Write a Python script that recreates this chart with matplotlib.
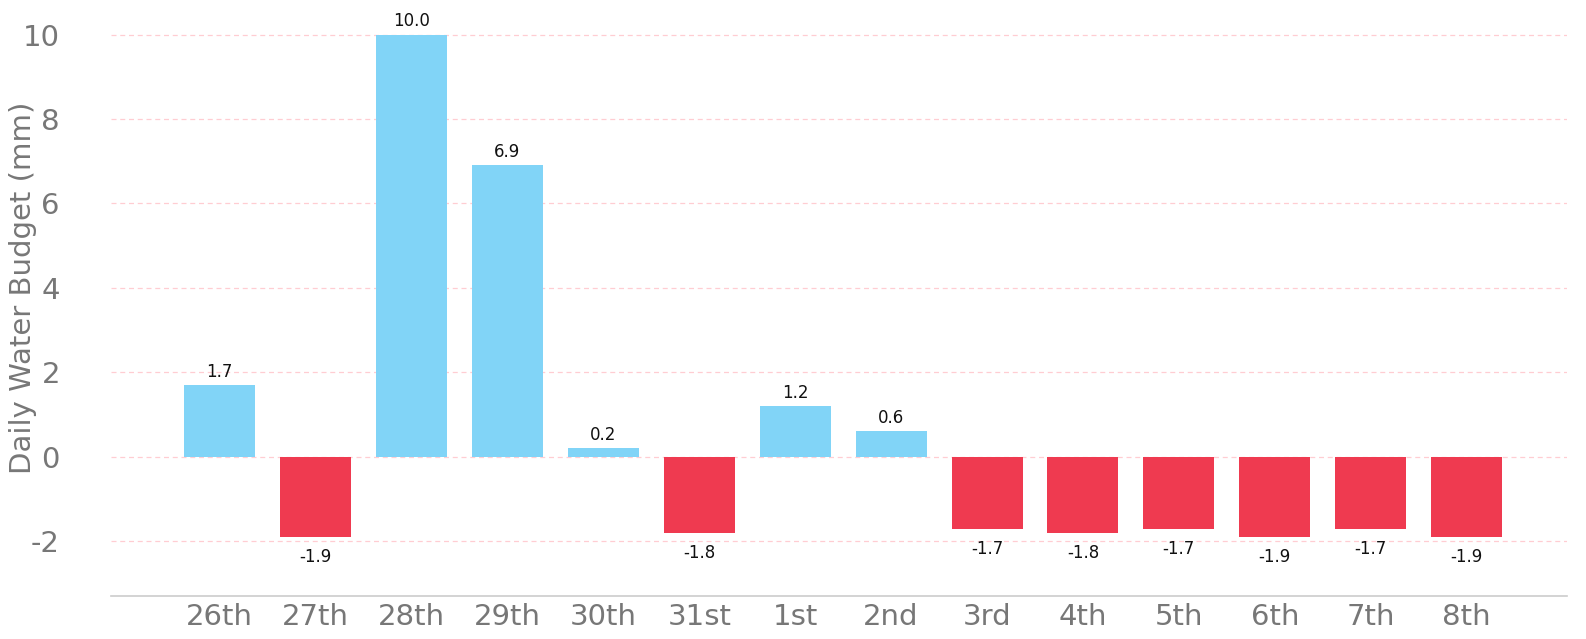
import matplotlib
matplotlib.use("Agg")
import matplotlib.pyplot as plt
from matplotlib.ticker import FuncFormatter

days = ["26th", "27th", "28th", "29th", "30th", "31st", "1st", "2nd",
        "3rd", "4th", "5th", "6th", "7th", "8th"]
values = [1.7, -1.9, 10.0, 6.9, 0.2, -1.8, 1.2, 0.6,
          -1.7, -1.8, -1.7, -1.9, -1.7, -1.9]
y_ticks = [-2, 0, 2, 4, 6, 8, 10]

BLUE = "#81D4F7"
RED = "#EF3A50"

plt.rcParams["font.family"] = ["DejaVu Sans"]

fig = plt.figure(figsize=(15.86, 6.39), dpi=100)
ax = fig.add_axes([0.0702, 0.067, 0.918, 0.912])

x = list(range(len(days)))
colors = [BLUE if v >= 0 else RED for v in values]
ax.bar(x, values, width=0.74, color=colors, zorder=3)

for xi, v in zip(x, values):
    if v >= 0:
        ax.annotate(f"{v:.1f}", (xi, v), xytext=(0, 3), textcoords="offset points",
                    ha="center", va="bottom", fontsize=12, color="#111111")
    else:
        ax.annotate(f"{v:.1f}", (xi, v), xytext=(0, -8), textcoords="offset points",
                    ha="center", va="top", fontsize=12, color="#111111")

ax.set_xlim(-1.13, 14.05)
ax.set_ylim(-3.3, 10.5)
ax.set_xticks(x)
ax.set_xticklabels(days)
ax.set_yticks(y_ticks)
ax.yaxis.set_major_formatter(FuncFormatter(lambda v, p: f"{int(v)}"))
ax.tick_params(axis="both", length=0, labelsize=21, labelcolor="#777777")
ax.tick_params(axis="x", pad=5)
ax.tick_params(axis="y", pad=37)
ax.set_ylabel("Daily Water Budget (mm)", fontsize=21, color="#777777")
ax.yaxis.set_label_coords(-0.0512, 0.530)

ax.grid(axis="y", color="#FFCDD2", linestyle=(0, (4, 3)), linewidth=0.9, zorder=0)
for s in ["top", "right", "left"]:
    ax.spines[s].set_visible(False)
ax.spines["bottom"].set_color("#CCCCCC")
ax.spines["bottom"].set_linewidth(1.2)

fig.savefig("out.png", dpi=100)
